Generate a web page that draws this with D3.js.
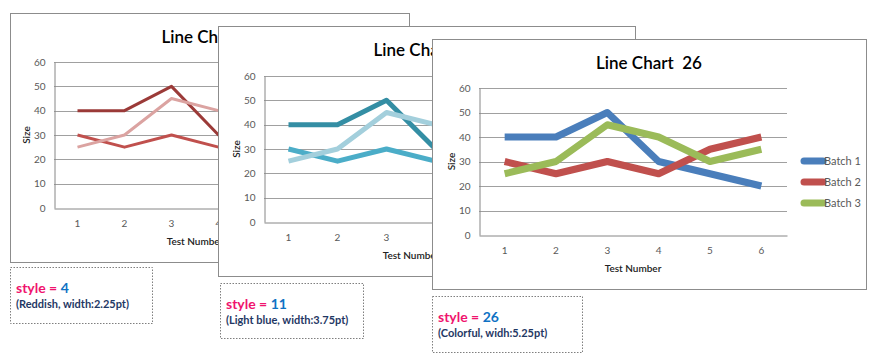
<!DOCTYPE html>
<html>
<head>
<meta charset="utf-8">
<script src="https://cdn.jsdelivr.net/npm/d3@7"></script>
<style>
  body { margin: 0; background: #fff; }
  svg { display: block; font-family: Lato, "Open Sans", sans-serif; }
</style>
</head>
<body>
<div id="chart"></div>
<script>
// data shared by all three charts
var testNumbers = [1, 2, 3, 4, 5, 6];
var yTicks = [0, 10, 20, 30, 40, 50, 60];
var seriesNames = ["Batch 1", "Batch 2", "Batch 3"];
var batch1 = [40, 40, 50, 30, 25, 20];
var batch2 = [30, 25, 30, 25, 35, 40];
var batch3 = [25, 30, 45, 40, 30, 35];
var styleIds = [4, 11, 26];
var styleNotes = ["(Reddish, width:2.25pt)", "(Light blue, width:3.75pt)", "(Colorful, widh:5.25pt)"];

var W = 876, H = 362;
var svg = d3.select("#chart").append("svg")
    .attr("width", W)
    .attr("height", H);

// one chart panel + its caption box
var panels = [
    { box: [10, 13, 409, 262], plot: [54, 62, 336, 208], colors: ["#9b3a38", "#c0504d", "#dba3a1"], width: 3,
      note: [10, 267, 152, 323] },
    { box: [218, 26, 635, 276], plot: [264, 76, 558, 222], colors: ["#348ea4", "#4badc8", "#a3cfdc"], width: 5,
      note: [220, 283, 363, 338] },
    { box: [432, 39, 866, 289], plot: [479, 88, 787, 235], colors: ["#4a7ebb", "#c0504d", "#9bbb59"], width: 7,
      note: [432, 296, 582, 352] }
];
var allSeries = [batch1, batch2, batch3];

function drawPanel(p, k) {
    var g = svg.append("g");
    var b = p.box, pl = p.plot;
    g.append("rect")
        .attr("x", b[0] + 0.5).attr("y", b[1] + 0.5)
        .attr("width", b[2] - b[0]).attr("height", b[3] - b[1])
        .style("fill", "#fff").style("stroke", "#8c8c8c").style("stroke-width", 1);

    var x = d3.scaleBand().domain(testNumbers).range([pl[0], pl[2]]);
    var y = d3.scaleLinear().domain([0, 60]).range([pl[3], pl[1]]);

    // title
    g.append("text")
        .attr("x", (b[0] + b[2]) / 2).attr("y", b[1] + 30)
        .attr("text-anchor", "middle")
        .style("font-size", "17px").style("font-weight", 600).style("fill", "#000")
        .attr("xml:space", "preserve")
        .text("Line Chart  " + styleIds[k]);

    // gridlines
    g.selectAll("line.grid")
        .data(yTicks.filter(function (d) { return d > 0; })).enter()
        .append("line")
        .attr("x1", pl[0]).attr("x2", pl[2])
        .attr("y1", function (d) { return Math.round(y(d)) + 0.5; })
        .attr("y2", function (d) { return Math.round(y(d)) + 0.5; })
        .style("stroke", "#a0a0a0").style("stroke-width", 1.2);

    // axes
    var yAxis = d3.axisLeft(y).tickValues(yTicks).tickSize(0).tickPadding(9);
    var gy = g.append("g").attr("transform", "translate(" + (Math.round(pl[0]) + 0.5) + ",0)").call(yAxis);
    var xAxis = d3.axisBottom(x).tickSize(0).tickPadding(11);
    var gx = g.append("g").attr("transform", "translate(0," + (Math.round(pl[3]) + 0.5) + ")").call(xAxis);
    [gx, gy].forEach(function (a) {
        a.select(".domain").style("stroke", "#868686");
        a.selectAll("text").style("font-family", "Lato, sans-serif").style("font-size", "10px").style("fill", "#595959");
    });

    g.append("text")
        .attr("transform", "translate(" + (pl[0] - 24) + "," + ((pl[1] + pl[3]) / 2) + ") rotate(-90)")
        .attr("text-anchor", "middle")
        .style("font-size", "10px").style("font-weight", 600).style("fill", "#222")
        .text("Size");
    g.append("text")
        .attr("x", (pl[0] + pl[2]) / 2).attr("y", pl[3] + 37)
        .attr("text-anchor", "middle")
        .style("font-size", "10px").style("font-weight", 600).style("fill", "#222")
        .text("Test Number");

    // series lines
    var line = d3.line()
        .x(function (d, i) { return x(testNumbers[i]) + x.bandwidth() / 2; })
        .y(function (d) { return y(d); });
    allSeries.forEach(function (s, i) {
        g.append("path").datum(s)
            .attr("d", line)
            .style("fill", "none")
            .style("stroke", p.colors[i])
            .style("stroke-width", p.width)
            .style("stroke-linejoin", "round");
    });

    // legend
    seriesNames.forEach(function (name, i) {
        var ly = pl[1] + 73 + i * 21;
        g.append("line")
            .attr("x1", pl[2] + 17).attr("x2", pl[2] + 36)
            .attr("y1", ly).attr("y2", ly)
            .style("stroke", p.colors[i]).style("stroke-width", p.width)
            .style("stroke-linecap", "round");
        g.append("text")
            .attr("x", pl[2] + 37).attr("y", ly + 4)
            .style("font-size", "11px").style("fill", "#595959")
            .text(name);
    });

    // caption box
    var n = p.note;
    var cg = svg.append("g");
    cg.append("rect")
        .attr("x", n[0] + 0.5).attr("y", n[1] + 0.5)
        .attr("width", n[2] - n[0]).attr("height", n[3] - n[1])
        .style("fill", "#fff").style("stroke", "#7f7f7f").style("stroke-dasharray", "1.5,1.5");
    var t = cg.append("text")
        .attr("x", n[0] + 6).attr("y", n[1] + 26)
        .style("font-size", "14px").style("font-weight", 700);
    t.append("tspan").style("fill", "#f0146e").text("style = ");
    t.append("tspan").style("fill", "#0e72c4").text(styleIds[k]);
    cg.append("text")
        .attr("x", n[0] + 6).attr("y", n[1] + 41)
        .style("font-size", "11px").style("font-weight", 700).style("fill", "#1f3864")
        .text(styleNotes[k]);
}

panels.forEach(drawPanel);
</script>
</body>
</html>
